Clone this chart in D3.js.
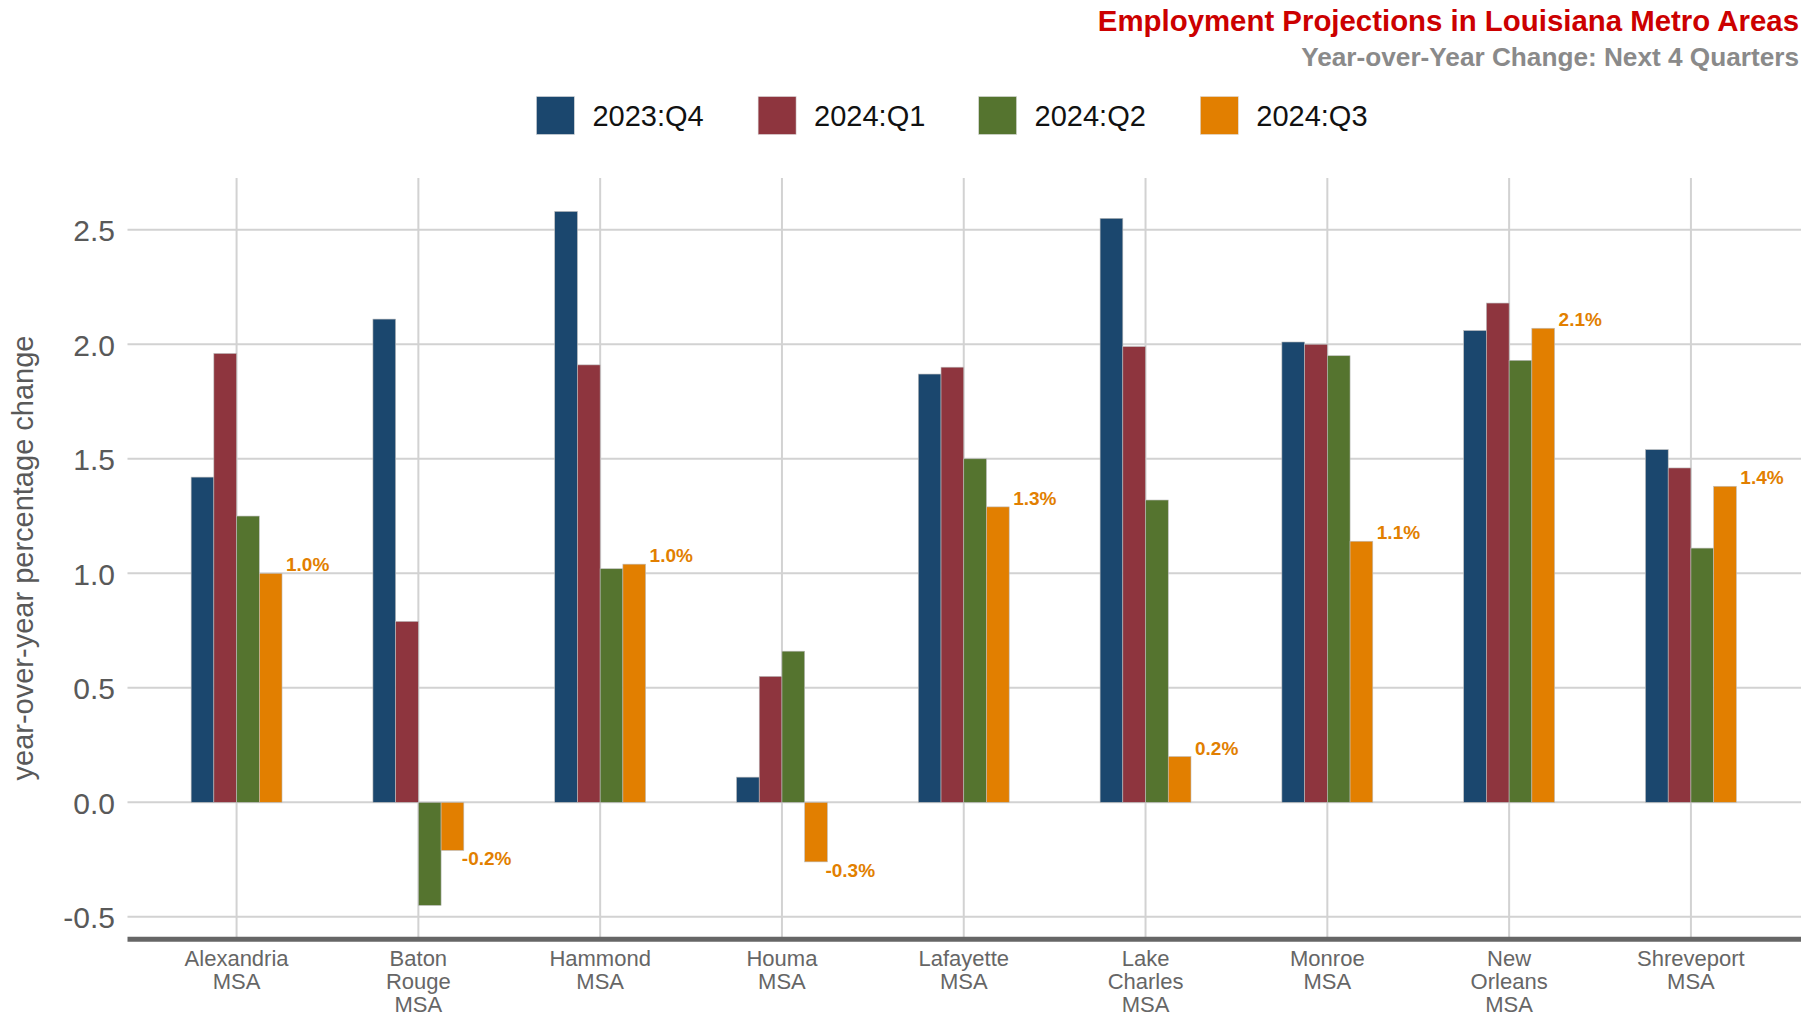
<!DOCTYPE html>
<html>
<head>
<meta charset="utf-8">
<script src="https://cdn.jsdelivr.net/npm/d3@7"></script>
<style>
  html, body { margin: 0; padding: 0; background: #fff; }
  svg text { font-family: "Liberation Sans", Arial, Helvetica, sans-serif; }
</style>
</head>
<body>
<svg id="chart" width="1801" height="1017"></svg>
<script>
const categories = ["Alexandria MSA", "Baton Rouge MSA", "Hammond MSA", "Houma MSA", "Lafayette MSA",
  "Lake Charles MSA", "Monroe MSA", "New Orleans MSA", "Shreveport MSA"];
const categoryLines = [["Alexandria", "MSA"], ["Baton", "Rouge", "MSA"], ["Hammond", "MSA"], ["Houma", "MSA"],
  ["Lafayette", "MSA"], ["Lake", "Charles", "MSA"], ["Monroe", "MSA"], ["New", "Orleans", "MSA"], ["Shreveport", "MSA"]];
const seriesNames = ["2023:Q4", "2024:Q1", "2024:Q2", "2024:Q3"];
const q4_2023 = [1.42, 2.11, 2.58, 0.11, 1.87, 2.55, 2.01, 2.06, 1.54];
const q1_2024 = [1.96, 0.79, 1.91, 0.55, 1.90, 1.99, 2.00, 2.18, 1.46];
const q2_2024 = [1.25, -0.45, 1.02, 0.66, 1.50, 1.32, 1.95, 1.93, 1.11];
const q3_2024 = [1.00, -0.21, 1.04, -0.26, 1.29, 0.20, 1.14, 2.07, 1.38];
const yTicks = [-0.5, 0.0, 0.5, 1.0, 1.5, 2.0, 2.5];
const colors = ["#1B476E", "#8E353E", "#55742F", "#E27F00"];
const titleText = "Employment Projections in Louisiana Metro Areas";
const subtitleText = "Year-over-Year Change: Next 4 Quarters";
const yAxisTitle = "year-over-year percentage change";

const seriesValues = [q4_2023, q1_2024, q2_2024, q3_2024];
const data = categories.map((c, i) => ({ cat: c, values: seriesValues.map((s, j) => ({ key: seriesNames[j], v: s[i], j })) }));

const svg = d3.select("#chart");
const panel = { left: 127.5, right: 1800, top: 178, bottom: 937 };

const x = d3.scaleBand().domain(categories).range([panel.left, panel.right])
  .paddingInner(0.5).paddingOuter(0.35).align(0.5);
const xs = d3.scaleBand().domain(seriesNames).range([0, x.bandwidth()]).padding(0);
const y = d3.scaleLinear().domain([-0.588, 2.726]).range([panel.bottom, panel.top]);

const grid = svg.append("g");
grid.selectAll("line.h").data(yTicks).join("line")
  .attr("x1", panel.left).attr("x2", panel.right + 1)
  .attr("y1", d => y(d)).attr("y2", d => y(d))
  .attr("stroke", "#d2d2d2").attr("stroke-width", 2);
grid.selectAll("line.v").data(categories).join("line")
  .attr("x1", d => x(d) + x.bandwidth() / 2).attr("x2", d => x(d) + x.bandwidth() / 2)
  .attr("y1", panel.top).attr("y2", panel.bottom)
  .attr("stroke", "#d2d2d2").attr("stroke-width", 2);

// bars
const groups = svg.append("g").selectAll("g").data(data).join("g")
  .attr("transform", d => `translate(${x(d.cat)},0)`);
groups.selectAll("rect").data(d => d.values).join("rect")
  .attr("x", d => xs(d.key))
  .attr("width", xs.bandwidth())
  .attr("y", d => y(Math.max(0, d.v)))
  .attr("height", d => Math.abs(y(d.v) - y(0)))
  .attr("fill", d => colors[d.j])
  .attr("stroke", "#bdbdbd").attr("stroke-width", 0.6);

// orange value labels
svg.append("g").selectAll("text").data(data).join("text")
  .attr("x", d => x(d.cat) + xs(seriesNames[3]) + xs.bandwidth() + (d.values[3].v < 0 ? -2 : 4))
  .attr("y", d => d.values[3].v < 0 ? y(d.values[3].v) + 15 : y(d.values[3].v) - 2)
  .attr("fill", colors[3]).attr("font-weight", "bold").attr("font-size", 19)
  .text(d => d.values[3].v.toFixed(1) + "%");

// y axis tick labels
const yAxis = d3.axisLeft(y).tickValues(yTicks).tickFormat(d => d.toFixed(1)).tickSize(0).tickPadding(0);
const yg = svg.append("g").attr("transform", `translate(115,0)`).call(yAxis);
yg.select(".domain").remove();
yg.selectAll("text").attr("font-size", 30).attr("fill", "#595959")
  .attr("font-family", "Liberation Sans, Arial, sans-serif").attr("dy", "0.36em");

// x axis line
svg.append("line").attr("x1", panel.left).attr("x2", 1801)
  .attr("y1", 939.2).attr("y2", 939.2).attr("stroke", "#666").attr("stroke-width", 5);

// x axis labels
const xl = svg.append("g").selectAll("text").data(categories).join("text")
  .attr("x", d => x(d) + x.bandwidth() / 2).attr("y", 966)
  .attr("text-anchor", "middle").attr("font-size", 22).attr("fill", "#666");
xl.each(function(d, i) {
  const t = d3.select(this);
  categoryLines[i].forEach((ln, k) => {
    t.append("tspan").attr("x", x(d) + x.bandwidth() / 2).attr("dy", k === 0 ? 0 : 23).text(ln);
  });
});

// y axis title
svg.append("text").attr("transform", "translate(33,558) rotate(-90)")
  .attr("text-anchor", "middle").attr("font-size", 29).attr("fill", "#595959").text(yAxisTitle);

// titles
svg.append("text").attr("x", 1799).attr("y", 31).attr("text-anchor", "end")
  .attr("font-size", 29.4).attr("font-weight", "bold").attr("fill", "#CC0000").text(titleText);
svg.append("text").attr("x", 1799).attr("y", 66).attr("text-anchor", "end")
  .attr("font-size", 26.2).attr("font-weight", "bold").attr("fill", "#8a8a8a").text(subtitleText);

// legend
const legendX = [536.4, 758.1, 978.6, 1200.3];
const lg = svg.append("g").selectAll("g").data(seriesNames).join("g")
  .attr("transform", (d, i) => `translate(${legendX[i]},96.5)`);
lg.append("rect").attr("width", 38).attr("height", 38).attr("fill", (d, i) => colors[i])
  .attr("stroke", "#ddd").attr("stroke-width", 0.6);
lg.append("text").attr("x", 56).attr("y", 19).attr("dy", "0.36em").attr("font-size", 29)
  .attr("fill", "#111").text(d => d);
</script>
</body>
</html>
